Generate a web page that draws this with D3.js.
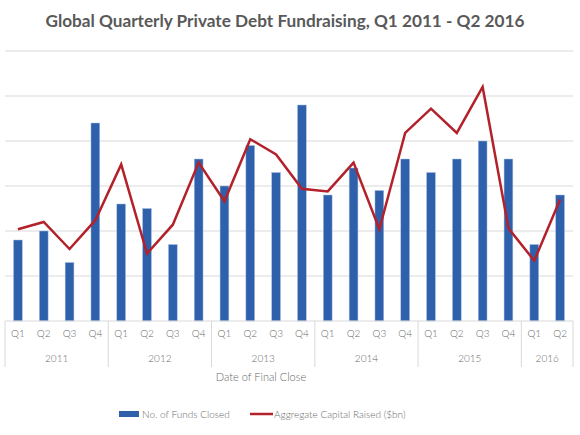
<!DOCTYPE html>
<html>
<head>
<meta charset="utf-8">
<title></title>
<script src="https://d3js.org/d3.v7.min.js"></script>
<style>
body { margin: 0; background: #fff; }
text { font-family: Lato, "Open Sans", sans-serif; fill: #6a6a6a; }
</style>
</head>
<body>
<div id="chart"></div>
<script>
var years = ["2011", "2012", "2013", "2014", "2015", "2016"];
var quarters = ["Q1", "Q2", "Q3", "Q4", "Q1", "Q2", "Q3", "Q4", "Q1", "Q2", "Q3", "Q4",
                "Q1", "Q2", "Q3", "Q4", "Q1", "Q2", "Q3", "Q4", "Q1", "Q2"];
var quarterYear = ["2011", "2011", "2011", "2011", "2012", "2012", "2012", "2012",
                   "2013", "2013", "2013", "2013", "2014", "2014", "2014", "2014",
                   "2015", "2015", "2015", "2015", "2016", "2016"];
// No. of funds closed
var fundsClosed = [18, 20, 13, 44, 26, 25, 17, 36, 30, 39, 33, 48,
                   28, 34, 29, 36, 33, 36, 40, 36, 17, 28];
// Aggregate capital raised ($bn)
var capitalRaised = [10.2, 11.0, 8.0, 11.2, 17.4, 7.5, 10.7, 17.6, 13.3, 20.2, 18.5, 14.7,
                     14.4, 17.6, 10.2, 20.9, 23.6, 20.9, 26.0, 10.3, 6.7, 13.5];

var width = 580, height = 435;
var margin = {top: 51, right: 7, bottom: 114, left: 5};
var innerW = width - margin.left - margin.right,
    innerH = height - margin.top - margin.bottom;

var svg = d3.select("#chart").append("svg")
    .attr("width", width)
    .attr("height", height);

svg.append("text")
    .attr("x", 285)
    .attr("y", 27)
    .attr("text-anchor", "middle")
    .style("font-size", "17.2px")
    .style("font-weight", "bold")
    .style("fill", "#595959")
    .text("Global Quarterly Private Debt Fundraising, Q1 2011 - Q2 2016");

var g = svg.append("g")
    .attr("transform", "translate(" + margin.left + "," + margin.top + ")");

var idx = d3.range(quarters.length);

var x = d3.scaleBand()
    .domain(idx)
    .range([0, innerW])
    .paddingInner(0.66)
    .paddingOuter(0.33);

var yBar = d3.scaleLinear().domain([0, 60]).range([innerH, 0]);
var yLine = d3.scaleLinear().domain([0, 30]).range([innerH, 0]);

// gridlines
g.append("g")
    .selectAll("line")
    .data(yBar.ticks(6).filter(function(d) { return d > 0; }))
    .enter().append("line")
      .attr("x1", 0)
      .attr("x2", innerW)
      .attr("y1", function(d) { return yBar(d); })
      .attr("y2", function(d) { return yBar(d); })
      .attr("stroke", "#d9d9d9")
      .attr("stroke-width", 1);

// bars
g.append("g")
    .selectAll("rect")
    .data(fundsClosed)
    .enter().append("rect")
      .attr("x", function(d, i) { return x(i); })
      .attr("y", function(d) { return yBar(d); })
      .attr("width", x.bandwidth())
      .attr("height", function(d) { return innerH - yBar(d); })
      .attr("fill", "#2e60ab")
      .attr("stroke", "#a9c0e4")
      .attr("stroke-width", 0.5);

// line
var line = d3.line()
    .x(function(d, i) { return x(i) + x.bandwidth() / 2; })
    .y(function(d) { return yLine(d); });

g.append("path")
    .datum(capitalRaised)
    .attr("d", line)
    .attr("fill", "none")
    .attr("stroke", "#b3222b")
    .attr("stroke-width", 2.5)
    .attr("stroke-linejoin", "miter");

// category axis
var step = x.step();
var axis = g.append("g").attr("transform", "translate(0," + innerH + ")");

axis.append("line")
    .attr("x1", 0).attr("x2", innerW)
    .attr("y1", 0).attr("y2", 0)
    .attr("stroke", "#d9d9d9");

axis.selectAll("text.q")
    .data(quarters)
    .enter().append("text")
      .attr("class", "q")
      .attr("x", function(d, i) { return x(i) + x.bandwidth() / 2; })
      .attr("y", 16)
      .attr("text-anchor", "middle")
      .style("font-size", "10px")
      .style("font-weight", 300)
      .text(function(d) { return d; });

var yearStart = years.map(function(yr) { return quarterYear.indexOf(yr); });
var yearCount = years.map(function(yr) {
  return quarterYear.filter(function(q) { return q === yr; }).length;
});

var bounds = yearStart.concat([quarters.length]);
axis.selectAll("line.sep")
    .data(bounds)
    .enter().append("line")
      .attr("class", "sep")
      .attr("x1", function(d) { return d * step; })
      .attr("x2", function(d) { return d * step; })
      .attr("y1", 0)
      .attr("y2", 46)
      .attr("stroke", "#d9d9d9");

axis.selectAll("text.yr")
    .data(years)
    .enter().append("text")
      .attr("class", "yr")
      .attr("x", function(d, i) { return (yearStart[i] + yearCount[i] / 2) * step; })
      .attr("y", 41)
      .attr("text-anchor", "middle")
      .style("font-size", "10px")
      .style("font-weight", 300)
      .text(function(d) { return d; });

svg.append("text")
    .attr("x", 261)
    .attr("y", 381)
    .attr("text-anchor", "middle")
    .style("font-size", "11px")
    .style("font-weight", 300)
    .text("Date of Final Close");

// legend
var legend = svg.append("g");
legend.append("rect")
    .attr("x", 119).attr("y", 411)
    .attr("width", 20).attr("height", 6)
    .attr("fill", "#2e60ab");
legend.append("text")
    .attr("x", 142).attr("y", 418)
    .style("font-size", "10px")
    .style("font-weight", 300)
    .text("No. of Funds Closed");
legend.append("line")
    .attr("x1", 250).attr("x2", 273)
    .attr("y1", 414).attr("y2", 414)
    .attr("stroke", "#b3222b")
    .attr("stroke-width", 2.5);
legend.append("text")
    .attr("x", 274).attr("y", 418)
    .style("font-size", "10px")
    .style("font-weight", 300)
    .text("Aggregate Capital Raised ($bn)");
</script>
</body>
</html>
